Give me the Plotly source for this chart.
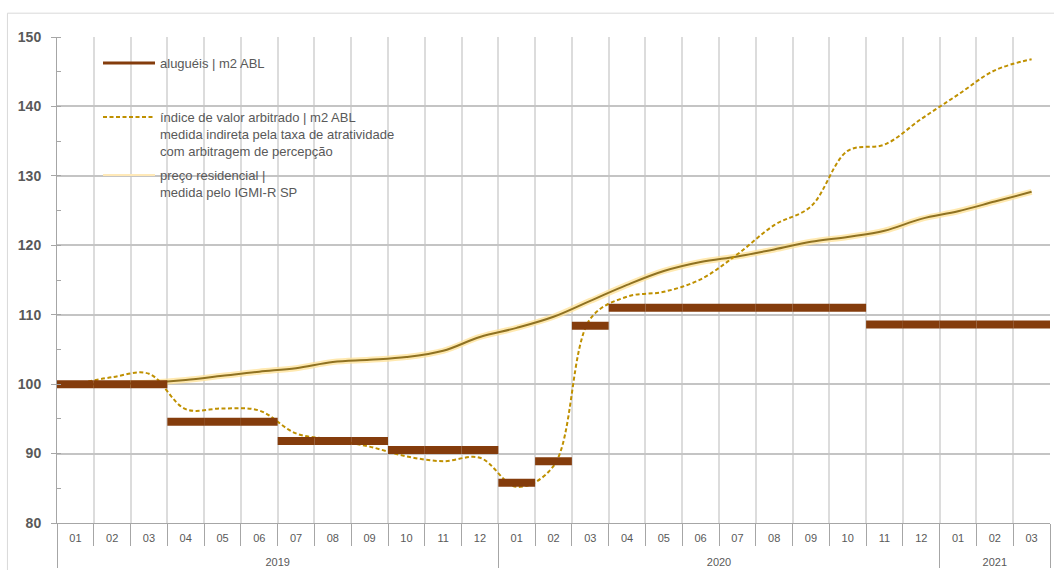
import plotly.graph_objects as go

# ---- data -----------------------------------------------------------------
years = ["2019"] * 12 + ["2020"] * 12 + ["2021"] * 3
months = ["01", "02", "03", "04", "05", "06", "07", "08", "09", "10", "11", "12",
          "01", "02", "03", "04", "05", "06", "07", "08", "09", "10", "11", "12",
          "01", "02", "03"]

# aluguéis | m2 ABL (step values per month)
rent = [100.0, 100.0, 100.0,
        94.6, 94.6, 94.6,
        91.8, 91.8, 91.8,
        90.5, 90.5, 90.5,
        85.8, 88.9, 108.4,
        111.0, 111.0, 111.0, 111.0, 111.0, 111.0, 111.0,
        108.6, 108.6, 108.6, 108.6, 108.6]

# índice de valor arbitrado | m2 ABL
indice = [100.0, 101.0, 101.5, 96.4, 96.5, 96.2, 92.9, 92.0, 91.0, 89.6, 88.9, 89.4,
          85.2, 88.2, 109.4, 112.6, 113.3, 115.1, 118.7, 122.9, 125.6, 133.6, 134.5,
          138.2, 141.7, 145.2, 146.8]

# preço residencial | IGMI-R SP
residencial = [100.0, 100.0, 100.2, 100.6, 101.2, 101.8, 102.3, 103.2, 103.5, 103.9,
               104.8, 106.8, 108.1, 109.7, 112.0, 114.3, 116.3, 117.6, 118.4, 119.4,
               120.5, 121.2, 122.1, 123.8, 124.9, 126.3, 127.7]

y_ticks = [80, 90, 100, 110, 120, 130, 140, 150]

# ---- styles ---------------------------------------------------------------
BROWN = "#843C0C"
GOLD_DASH = "#BF9000"
GOLD_LINE = "#8F7222"
GLOW = "rgba(255,226,150,0.75)"
LEGEND_PALE = "#FFE9B8"
TEXT = "#595959"
FONT = "Liberation Sans, Arial, sans-serif"
BAR_THICK = 1.15  # thickness of the rent segments, in index points

# year row sits one line lower than the month row
year_row = ["<br>" + y for y in years]
x = [year_row, months]

fig = go.Figure()

# residential price: soft halo + core line
fig.add_trace(go.Scatter(
    x=x, y=residencial, mode="lines", line=dict(color=GLOW, width=6, shape="spline"),
    showlegend=False, hoverinfo="skip"))
fig.add_trace(go.Scatter(
    x=x, y=residencial, mode="lines", line=dict(color=GOLD_LINE, width=2, shape="spline"),
    showlegend=False, name="preço residencial"))

# arbitrated value index, dashed
fig.add_trace(go.Scatter(
    x=x, y=indice, mode="lines",
    line=dict(color=GOLD_DASH, width=2, dash="4px,2.5px", shape="spline"),
    name="índice de valor arbitrado | m2 ABL<br>medida indireta pela taxa de atratividade"
         "<br>com arbitragem de percepção",
    legend="legend2"))

# legend entries drawn as plain lines
fig.add_trace(go.Scatter(
    x=[[year_row[0]], [months[0]]], y=[None], mode="lines",
    line=dict(color=BROWN, width=3), name="aluguéis | m2 ABL",
    legend="legend"))
fig.add_trace(go.Scatter(
    x=[[year_row[0]], [months[0]]], y=[None], mode="lines",
    line=dict(color=LEGEND_PALE, width=2),
    name="preço residencial |<br>medida pelo IGMI-R SP",
    legend="legend3"))

# rent segments: one full-width bar per month, centred on the value,
# on an overlaid copy of the x axis so they sit above the lines
fig.add_trace(go.Bar(
    x=x, y=[BAR_THICK] * len(rent), base=[v - BAR_THICK / 2 for v in rent],
    width=1, marker=dict(color=BROWN, line=dict(width=0)),
    xaxis="x2", yaxis="y",
    showlegend=False, name="aluguéis | m2 ABL",
    customdata=rent, hovertemplate="%{customdata}<extra></extra>"))

legend_common = dict(
    xanchor="left", yanchor="top", x=0.0413,
    bgcolor="rgba(0,0,0,0)", borderwidth=0,
    font=dict(family=FONT, size=13, color=TEXT),
    valign="top", itemwidth=52,
)

fig.update_layout(
    width=1054, height=570,
    margin=dict(l=57, r=4, t=37, b=47),
    paper_bgcolor="white", plot_bgcolor="white",
    font=dict(family=FONT, color=TEXT, size=12),
    barmode="overlay",
    legend=dict(legend_common, y=0.9774),
    legend2=dict(legend_common, y=0.8663),
    legend3=dict(legend_common, y=0.7469),
    shapes=[
        # outer chart frame
        dict(type="rect", xref="paper", yref="paper",
             x0=-0.0499, x1=1.02, y0=-0.12, y1=1.049,
             line=dict(color="#D9D9D9", width=1), fillcolor="rgba(0,0,0,0)",
             layer="below"),
        # legend panel
        dict(type="rect", xref="paper", yref="paper",
             x0=0.0126, x1=0.3824, y0=0.6276, y1=0.9733,
             line=dict(width=0), fillcolor="white", layer="between"),
    ],
)

fig.update_layout(
    xaxis=dict(
        type="multicategory",
        showgrid=True, gridcolor="#DCDCDC", gridwidth=1.5,
        tickson="boundaries", ticks="outside", ticklen=22, tickcolor="#A6A6A6",
        showline=True, linecolor="#A6A6A6", linewidth=1,
        showdividers=True, dividercolor="#A6A6A6", dividerwidth=1,
        tickfont=dict(family=FONT, size=11, color=TEXT),
        ticklabelstandoff=5,
        range=[-0.5, 26.5], fixedrange=True,
    ),
    xaxis2=dict(
        type="multicategory", overlaying="x", visible=False,
        range=[-0.5, 26.5], fixedrange=True,
    ),
    yaxis=dict(
        range=[80, 150], tickvals=y_ticks,
        showgrid=True, gridcolor="#C4C4C4", gridwidth=1.5,
        ticks="outside", ticklen=5, tickcolor="#A6A6A6",
        showline=True, linecolor="#A6A6A6", linewidth=1,
        tickfont=dict(family=FONT, size=14, color=TEXT, weight="bold"),
        ticklabelstandoff=7,
        minor=dict(dtick=5, tick0=0, ticks="inside", ticklen=4, tickcolor="#A6A6A6",
                   showgrid=False),
        zeroline=False, fixedrange=True,
    ),
)

fig.write_html("out.html")
